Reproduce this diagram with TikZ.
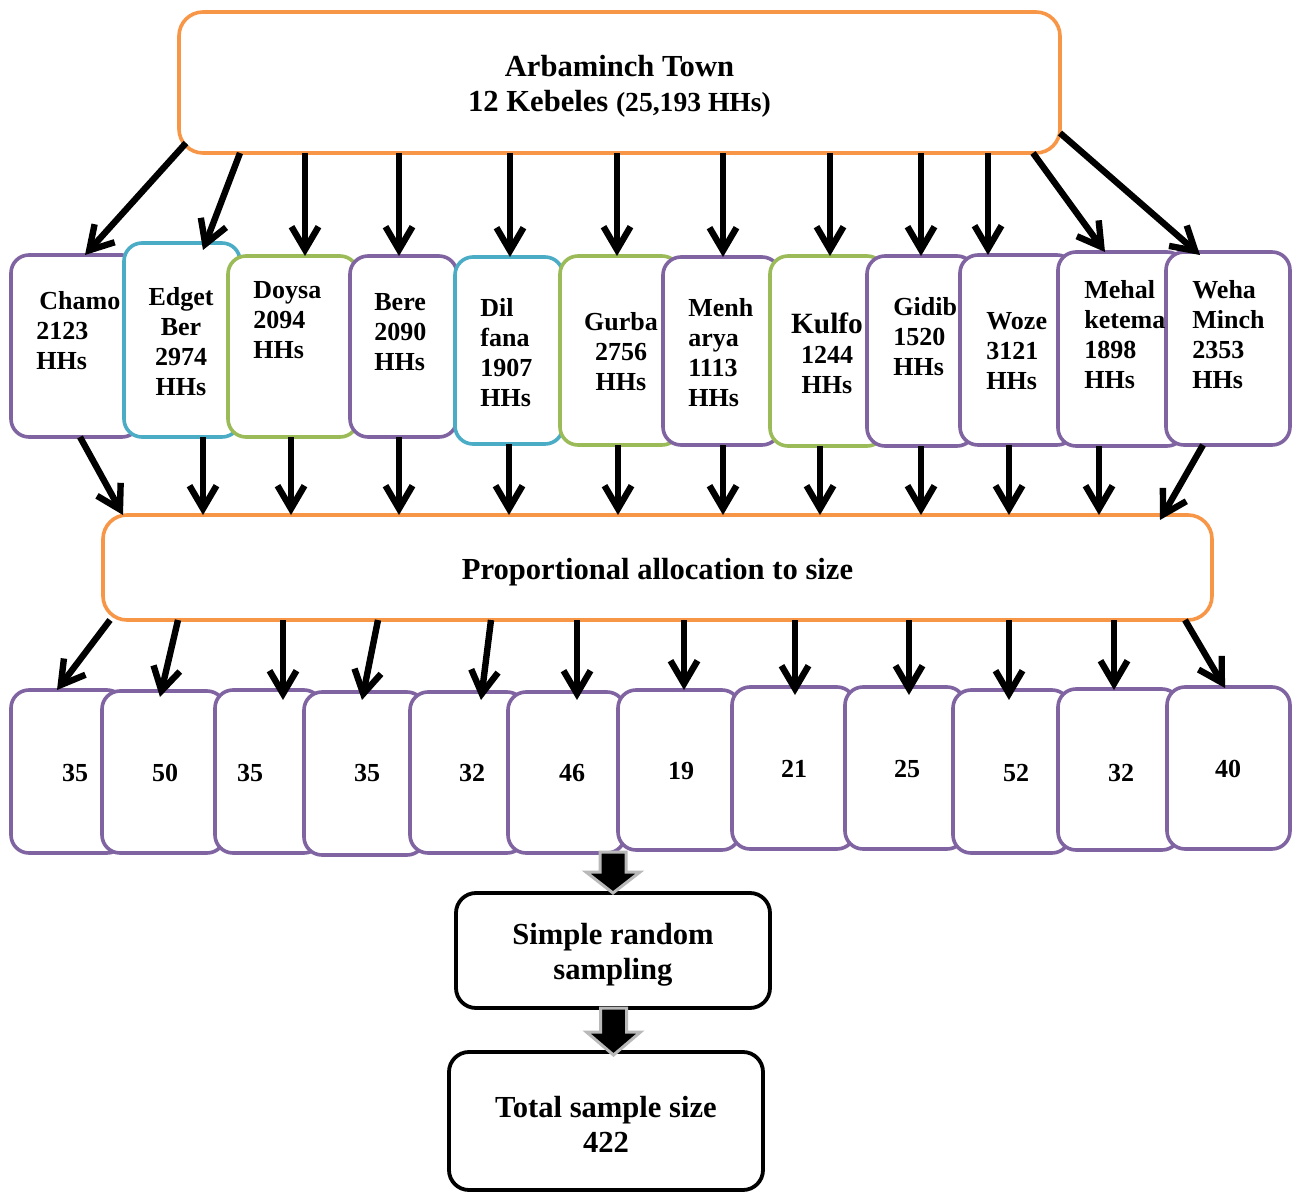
\documentclass[tikz,border=0pt]{standalone}
\usepackage{fontspec}
\setmainfont{Liberation Serif}
\usetikzlibrary{arrows.meta,calc}
\definecolor{cOr}{HTML}{F79646}
\definecolor{cPu}{HTML}{8064A2}
\definecolor{cBl}{HTML}{4BACC6}
\definecolor{cGr}{HTML}{9BBB59}
\begin{document}
\begin{tikzpicture}[x=0.5pt,y=-0.5pt,
 box/.style={draw, fill=white, rounded corners=9pt, line width=1.8pt, inner sep=0pt, outer sep=0pt},
 kp/.style={box, draw=cPu}, kb/.style={box, draw=cBl}, kg/.style={box, draw=cGr},
 obox/.style={box, draw=cOr, rounded corners=12pt},
 bbox/.style={box, draw=black, line width=1.9pt, rounded corners=10pt},
 btxt/.style={inner sep=0pt, align=center, font=\fontsize{15.3}{17.5}\selectfont\bfseries},
 ktxt/.style={font=\fontsize{13}{15}\selectfont\bfseries, inner sep=0pt, align=left, anchor=west},
 ctxt/.style={font=\fontsize{13}{15}\selectfont\bfseries, inner sep=0pt, align=center},
 ntxt/.style={font=\fontsize{13}{15}\selectfont\bfseries, inner sep=0pt},
 arr/.style={line width=3.2pt, -{Straight Barb[length=11.5pt,width=13.5pt]}},
 blk/.style={fill=black, draw=gray!55, line width=1.5pt},
]
\useasboundingbox[fill=white] (0,0) rectangle (1292,1193);

% top box
\node[obox, minimum width=440.5pt, minimum height=70.5pt] (top) at (619.5,82.5) {};
\node[btxt] (toptxt) at ([yshift=-1.8pt]top.center)
  {Arbaminch Town\\ 12 Kebeles {\fontsize{13.8}{17}\selectfont(25,193 HHs)}};

% row 1 boxes
\node[kp, minimum width=64.5pt, minimum height=91pt]   (k1)  at (75.5,346) {};
\node[kb, minimum width=58pt,   minimum height=97pt]   (k2)  at (182,340) {};
\node[kg, minimum width=65pt,   minimum height=90.5pt] (k3)  at (293,346.5) {};
\node[kp, minimum width=53.5pt, minimum height=90.5pt] (k4)  at (403.5,346.5) {};
\node[kb, minimum width=54pt,   minimum height=93.5pt] (k5)  at (509,350.5) {};
\node[kg, minimum width=60pt,   minimum height=94.5pt] (k6)  at (620,350.5) {};
\node[kp, minimum width=58.5pt, minimum height=94pt]   (k7)  at (721.5,351) {};
\node[kg, minimum width=57.5pt, minimum height=95pt]   (k8)  at (827.5,351) {};
\node[kp, minimum width=54pt,   minimum height=95pt]   (k9)  at (921,351) {};
\node[kp, minimum width=57.5pt, minimum height=95pt]   (k10) at (1017.5,350) {};
\node[kp, minimum width=63.5pt, minimum height=97pt]   (k11) at (1121.5,349) {};
\node[kp, minimum width=62pt,   minimum height=96.5pt] (k12) at (1228,348.5) {};

% row 1 texts
\node[ktxt] (t1)  at (36,331)   {\hspace{1.5pt}Chamo\\2123\\HHs};
\node[ctxt] (t2)  at (181,341.5){Edget\\Ber\\2974\\HHs};
\node[ktxt] (t3)  at (253,320)  {Doysa\\2094\\HHs};
\node[ktxt] (t4)  at (374,332)  {Bere\\2090\\HHs};
\node[ktxt] (t5)  at (480,353)  {Dil\\fana\\1907\\HHs};
\node[ctxt] (t6)  at (621,352)  {Gurba\\2756\\HHs};
\node[ktxt] (t7)  at (688,353)  {Menh\\arya\\1113\\HHs};
\node[ctxt] (t8)  at (827,353)  {{\fontsize{14.7}{16}\selectfont Kulfo}\\1244\\HHs};
\node[ktxt] (t9)  at (893,337)  {Gidib\\1520\\HHs};
\node[ktxt] (t10) at (986,351)  {Woze\\3121\\HHs};
\node[ktxt] (t11) at (1084,335) {Mehal\\ketema\\1898\\HHs};
\node[ktxt] (t12) at (1192,335) {Weha\\Minch\\2353\\HHs};

% middle box
\node[obox, minimum width=554.5pt, minimum height=52.5pt] (mid) at (657.5,567.5) {};
\node[btxt] (midtxt) at ([yshift=-2.2pt]mid.center) {Proportional allocation to size};

% row 2 boxes
\node[kp, minimum width=57pt,   minimum height=81.5pt] (n1)  at (68,771.5) {};
\node[kp, minimum width=61.5pt, minimum height=81pt]   (n2)  at (163.5,772) {};
\node[kp, minimum width=53.5pt, minimum height=81.5pt] (n3)  at (268.5,771.5) {};
\node[kp, minimum width=60.5pt, minimum height=81.5pt] (n4)  at (364.5,773.5) {};
\node[kp, minimum width=57.5pt, minimum height=80.5pt] (n5)  at (467.5,772.5) {};
\node[kp, minimum width=58.5pt, minimum height=80.5pt] (n6)  at (566.5,772.5) {};
\node[kp, minimum width=61pt,   minimum height=80pt]   (n7)  at (679,770) {};
\node[kp, minimum width=61.5pt, minimum height=81pt]   (n8)  at (793.5,768) {};
\node[kp, minimum width=60pt,   minimum height=81pt]   (n9)  at (905,768) {};
\node[kp, minimum width=58.5pt, minimum height=81.5pt] (n10) at (1011.5,771.5) {};
\node[kp, minimum width=61pt,   minimum height=80.5pt] (n11) at (1119,769.5) {};
\node[kp, minimum width=61.5pt, minimum height=81pt]   (n12) at (1228.5,768) {};

% row 2 numbers
\node[ntxt] (v1)  at (75,773)   {35};
\node[ntxt] (v2)  at (165,773)  {50};
\node[ntxt] (v3)  at (250,773)  {35};
\node[ntxt] (v4)  at (367,773)  {35};
\node[ntxt] (v5)  at (472,773)  {32};
\node[ntxt] (v6)  at (572,773)  {46};
\node[ntxt] (v7)  at (681,771)  {19};
\node[ntxt] (v8)  at (794,769)  {21};
\node[ntxt] (v9)  at (907,769)  {25};
\node[ntxt] (v10) at (1016,773) {52};
\node[ntxt] (v11) at (1121,773) {32};
\node[ntxt] (v12) at (1228,769) {40};

% bottom boxes
\node[bbox, minimum width=157pt, minimum height=57.5pt] (srs) at (613,950.5) {};
\node[btxt] (srstxt) at ([yshift=-2.2pt]srs.center) {Simple random\\sampling};
\node[bbox, minimum width=157pt, minimum height=69pt]   (tot) at (606,1121) {};
\node[btxt] (tottxt) at ([yshift=-1.8pt]tot.center) {Total sample size\\422};

% top -> row 1
\draw[arr] ([shift={(7,-10)}]top.south west) -- ([shift={(9.5,0)}]k1.north);
\draw[arr] ([shift={(61,0)}]top.south west) -- ([shift={(21,7)}]k2.north);
\foreach \i/\d in {3/12,4/-4.5,5/1,6/-3,7/1.5,8/2.5,9/0,10/-29.5}{
  \coordinate (a\i) at ([shift={(\d,0)}]k\i.north);
  \draw[arr] (a\i |- top.south) -- (a\i);
}
\draw[arr] ([shift={(-27,0)}]top.south east) -- ([shift={(-16.5,0)}]k11.north);
\draw[arr] ([shift={(0,-20)}]top.south east) -- ([shift={(-28,3)}]k12.north);

% row 1 -> middle
\draw[arr] ([shift={(4.5,0)}]k1.south) -- ([shift={(20,0)}]mid.north west);
\foreach \i/\d in {2/21,3/-2,4/-4.5,5/0,6/-2,7/1.5,8/-7.5,9/0,10/-8.5,11/-22.5}{
  \coordinate (b\i) at ([shift={(\d,0)}]k\i.south);
  \draw[arr] (b\i) -- (b\i |- mid.north);
}
\draw[arr] ([shift={(-25,0)}]k12.south) -- ([shift={(-52,5)}]mid.north east);

% middle -> row 2
\draw[arr] ([shift={(7,0)}]mid.south west) -- ([shift={(-11,0)}]n1.north);
\draw[arr] ([shift={(75,0)}]mid.south west) -- ([shift={(-3.5,6)}]n2.north);
\draw[arr] ([shift={(275,0)}]mid.south west) -- ([shift={(-2.5,8)}]n4.north);
\draw[arr] ([shift={(388,0)}]mid.south west) -- ([shift={(13.5,8)}]n5.north);
\foreach \i/\d/\e in {3/14.5/10,6/10.5/8,7/5/0,8/1.5/8,9/4/8,10/-2.5/10,11/-5/1}{
  \coordinate (c\i) at ([shift={(\d,\e)}]n\i.north);
  \draw[arr] (c\i |- mid.south) -- (c\i);
}
\draw[arr] ([shift={(-27,0)}]mid.south east) -- ([shift={(-3.5,1)}]n12.north);

% block arrows
\coordinate (tip1) at (srs.north);
\draw[blk] (tip1) ++(-13,-41) -- ++(26,0) -- ++(0,20) -- ++(14,0) -- ++(-27,21) -- ++(-27,-21) -- ++(14,0) -- cycle;
\coordinate (tip2) at ([shift={(7.5,3)}]tot.north);
\draw[blk] (tip2) ++(-13,-47) -- ++(26,0) -- ++(0,24) -- ++(14,0) -- ++(-27,23) -- ++(-27,-23) -- ++(14,0) -- cycle;
\end{tikzpicture}
\end{document}
